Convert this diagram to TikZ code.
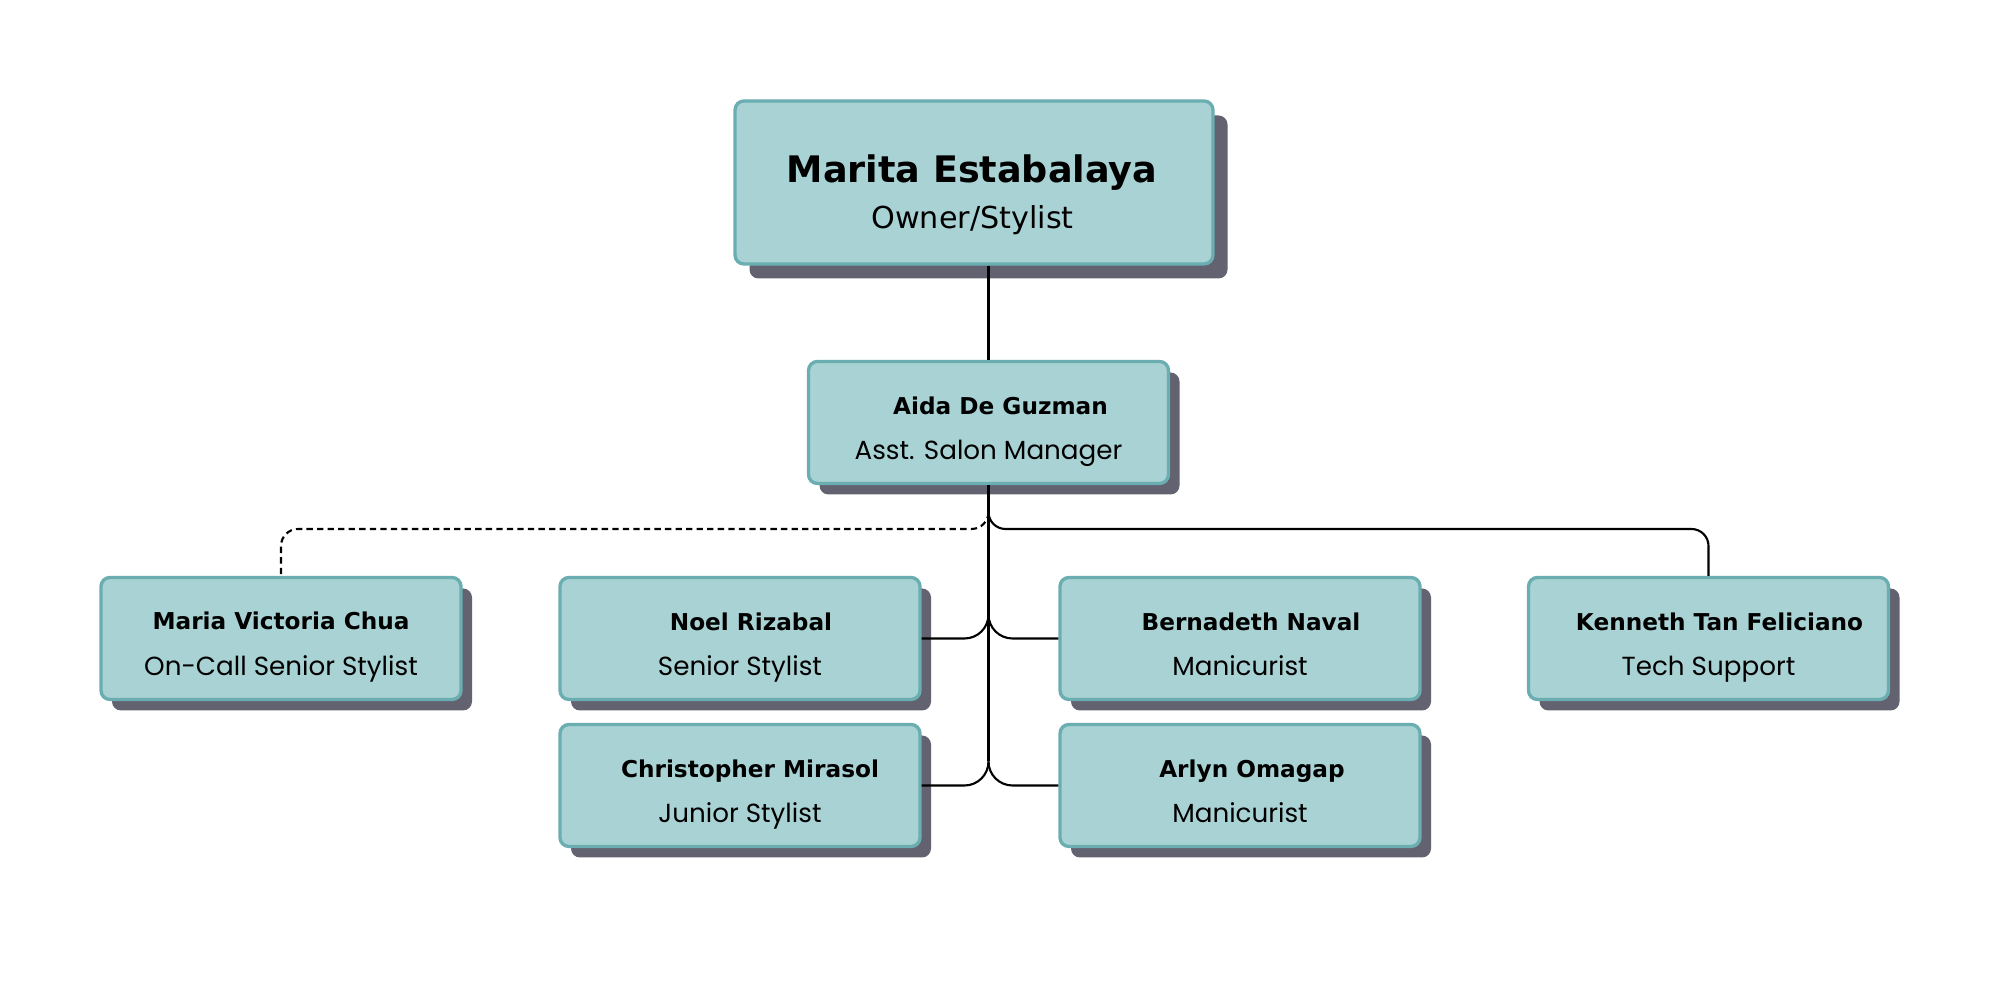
\documentclass[tikz,border=0pt]{standalone}
\usepackage{fontspec}
\setmainfont{DejaVu Sans}
\newfontfamily\rolefam{Poppins}
\usetikzlibrary{shadows}
\definecolor{cardfill}{HTML}{A9D2D4}
\definecolor{cardline}{HTML}{6AAEB1}
\definecolor{shade}{HTML}{636271}

\tikzset{
  box/.style={draw=cardline, fill=cardfill, line width=0.95pt, rounded corners=0.09cm, inner sep=0pt},
  card/.style={box, minimum width=3.6cm, minimum height=1.22cm,
    drop shadow={shadow xshift=0.11cm, shadow yshift=-0.11cm, fill=shade, opacity=1}},
  bigcard/.style={box, minimum width=4.78cm, minimum height=1.63cm,
    drop shadow={shadow xshift=0.145cm, shadow yshift=-0.145cm, fill=shade, opacity=1}},
  nm/.style={anchor=base, inner sep=0pt, font=\bfseries\fontsize{6.6}{8}\selectfont},
  rl/.style={anchor=base, inner sep=0pt, font=\rolefam\fontsize{7.45}{9}\selectfont},
  link/.style={line width=0.6pt, black},
  dashlink/.style={link, dash pattern=on 1.8pt off 1.2pt}
}

\begin{document}
\begin{tikzpicture}
  \fill[white] (0,0) rectangle (20,-10);
  % owner and manager
  \node[bigcard] (owner) at (9.74,-1.825) {};
  \node[anchor=base, inner sep=0pt, font=\bfseries\fontsize{10.4}{12}\selectfont] (owner-nm) at ([xshift=-0.02cm]owner.center) {Marita Estabalaya};
  \node[anchor=base, inner sep=0pt, font=\fontsize{8.6}{10}\selectfont] (owner-rl) at ([shift={(-0.015,-0.46)}]owner.center) {Owner/Stylist};

  \node[card] (aida) at (9.885,-4.225) {};
  \node[nm] (aida-nm) at ([shift={(0.12,0.075)}]aida.center) {Aida De Guzman};
  \node[rl] (aida-rl) at ([yshift=-0.375cm]aida.center) {Asst. Salon Manager};

  % staff, first row
  \node[card] (maria) at (2.81,-6.385) {};
  \node[nm] (maria-nm) at ([yshift=0.085cm]maria.center) {Maria Victoria Chua};
  \node[rl] (maria-rl) at ([yshift=-0.37cm]maria.center) {On-Call Senior Stylist};

  \node[card] (noel) at (7.40,-6.385) {};
  \node[nm] (noel-nm) at ([shift={(0.11,0.075)}]noel.center) {Noel Rizabal};
  \node[rl] (noel-rl) at ([yshift=-0.375cm]noel.center) {Senior Stylist};

  \node[card] (bern) at (12.40,-6.385) {};
  \node[nm] (bern-nm) at ([shift={(0.11,0.075)}]bern.center) {Bernadeth Naval};
  \node[rl] (bern-rl) at ([yshift=-0.375cm]bern.center) {Manicurist};

  \node[card] (ken) at (17.085,-6.385) {};
  \node[nm] (ken-nm) at ([shift={(0.11,0.075)}]ken.center) {Kenneth Tan Feliciano};
  \node[rl] (ken-rl) at ([yshift=-0.375cm]ken.center) {Tech Support};

  % staff, second row
  \node[card] (chris) at (7.40,-7.855) {};
  \node[nm] (chris-nm) at ([shift={(0.10,0.075)}]chris.center) {Christopher Mirasol};
  \node[rl] (chris-rl) at ([yshift=-0.375cm]chris.center) {Junior Stylist};

  \node[card] (arlyn) at (12.40,-7.855) {};
  \node[nm] (arlyn-nm) at ([shift={(0.12,0.075)}]arlyn.center) {Arlyn Omagap};
  \node[rl] (arlyn-rl) at ([yshift=-0.375cm]arlyn.center) {Manicurist};

  % connectors
  \coordinate (trunkend) at (aida.south |- 0,-7.615);
  \draw[link] (owner.south -| aida) -- (aida.north);
  \draw[link] (aida.south) -- (trunkend);
  \draw[dashlink, rounded corners=0.17cm] (aida.south |- 0,-5.12) |- (maria.north |- 0,-5.29) -- (maria.north);
  \draw[link, rounded corners=0.17cm] (aida.south |- 0,-5.12) |- (ken.north |- 0,-5.29) -- (ken.north);
  \draw[link, rounded corners=0.24cm] (noel.east) -| (aida.south |- 0,-6.0);
  \draw[link, rounded corners=0.24cm] (bern.west) -| (aida.south |- 0,-6.0);
  \draw[link, rounded corners=0.24cm] (chris.east) -| (trunkend);
  \draw[link, rounded corners=0.24cm] (arlyn.west) -| (trunkend);
\end{tikzpicture}
\end{document}
